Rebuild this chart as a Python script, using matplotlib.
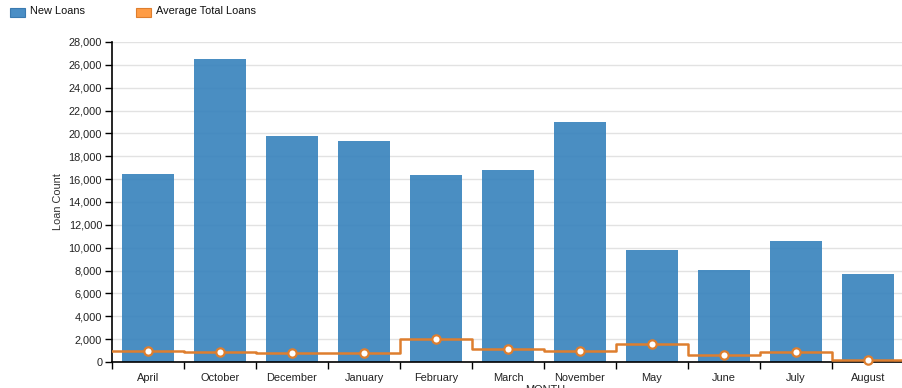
import matplotlib
matplotlib.use("Agg")
import matplotlib.pyplot as plt
import numpy as np
from matplotlib.patches import Rectangle

months = ["April", "October", "December", "January", "February", "March",
          "November", "May", "June", "July", "August"]
new_loans = [16450, 26500, 19800, 19300, 16330, 16770, 20980, 9830, 8080, 10620, 7730]
avg_total = [940, 880, 760, 820, 2040, 1140, 990, 1580, 590, 880, 200]
yticks = list(range(0, 28001, 2000))

plt.rcParams['font.family'] = ['Liberation Sans', 'DejaVu Sans']

W, H = 903, 388
fig = plt.figure(figsize=(W / 100, H / 100), dpi=100)
ax = fig.add_axes([112 / W, 1 - 362 / H, (904 - 112) / W, (362 - 42) / H])

x = np.arange(len(months))
blue = "#3a84bd"
orange = "#de7e2e"
fs = 7.9

ax.bar(x, new_loans, width=0.71, color=blue, alpha=0.92, zorder=2)

xs = np.concatenate([[-0.5], x, [len(months) - 0.5]])
ys = np.concatenate([[avg_total[0]], avg_total, [avg_total[-1]]])
ax.plot(xs, ys, drawstyle='steps-mid', color=orange, lw=1.8, zorder=3)
ax.plot(x, avg_total, 'o', ms=6, mfc='white', mec=orange, mew=1.6, zorder=4, clip_on=False)

ax.set_xlim(-0.5, len(months) - 0.5)
ax.set_ylim(0, 28000)
ax.set_yticks(yticks)
ax.set_yticklabels([f"{v:,}" for v in yticks], fontsize=fs, color="#222222")
ax.yaxis.grid(True, color="#e2e2e2", lw=1, zorder=0)
ax.set_axisbelow(True)

ax.set_xticks(np.arange(-0.5, len(months), 1.0))
ax.set_xticklabels([])
ax.set_xticks(x, minor=True)
ax.set_xticklabels(months, minor=True, fontsize=fs, color="#222222")
ax.tick_params(axis='x', which='minor', length=0, pad=8)
ax.tick_params(axis='x', which='major', length=5, width=1, color='black')
ax.tick_params(axis='y', length=5, width=1, color='black', pad=2)

for s in ['top', 'right']:
    ax.spines[s].set_visible(False)
ax.spines['left'].set_linewidth(1.2)
ax.spines['bottom'].set_linewidth(1.2)

ax.set_ylabel("Loan Count", fontsize=fs, color="#333333", labelpad=4)
fig.text(545 / W, 1 - 390 / H, "MONTH", fontsize=fs, ha='center', va='center', color="#222222")

# legend
fig.patches.append(Rectangle((10 / W, 1 - 17 / H), 15 / W, 9 / H, transform=fig.transFigure,
                             facecolor="#4a8ec5", edgecolor="#3a7ab0", lw=0.8))
fig.text(30 / W, 1 - 11 / H, "New Loans", fontsize=fs, va='center', color="#111111")
fig.patches.append(Rectangle((136 / W, 1 - 17 / H), 15 / W, 9 / H, transform=fig.transFigure,
                             facecolor="#ff9c45", edgecolor="#de7e2e", lw=0.8))
fig.text(156 / W, 1 - 11 / H, "Average Total Loans", fontsize=fs, va='center', color="#111111")

fig.savefig("out.png", dpi=100)
